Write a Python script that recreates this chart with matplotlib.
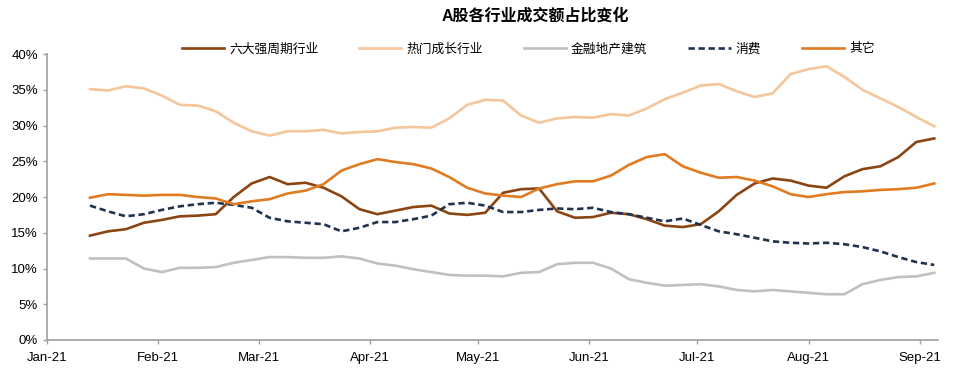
import matplotlib
matplotlib.use('Agg')
import matplotlib.pyplot as plt
import matplotlib.dates as mdates
from matplotlib.ticker import FuncFormatter
import pandas as pd

plt.rcParams['font.family'] = ['Liberation Sans', 'Noto Sans CJK SC', 'DejaVu Sans']
plt.rcParams['axes.unicode_minus'] = False

# ── Data (share of A-share turnover, %) ────────────────────────────
dates = pd.date_range('2021-01-13', periods=48, freq='5D')

cyclical = [14.6, 15.2, 15.5, 16.4, 16.8, 17.3, 17.4, 17.6, 20.0, 21.9,
            22.8, 21.8, 22.0, 21.3, 20.1, 18.3, 17.6, 18.1, 18.6, 18.8,
            17.7, 17.5, 17.8, 20.6, 21.1, 21.2, 18.0, 17.1, 17.2, 17.8,
            17.6, 16.9, 16.0, 15.8, 16.2, 18.0, 20.3, 21.9, 22.6, 22.3,
            21.6, 21.3, 22.9, 23.9, 24.3, 25.6, 27.7, 28.2]

growth = [35.1, 34.9, 35.5, 35.2, 34.2, 32.9, 32.8, 32.0, 30.4, 29.2,
          28.6, 29.2, 29.2, 29.4, 28.9, 29.1, 29.2, 29.7, 29.8, 29.7,
          31.0, 32.9, 33.6, 33.5, 31.4, 30.4, 31.0, 31.2, 31.1, 31.6,
          31.4, 32.4, 33.7, 34.6, 35.6, 35.8, 34.8, 34.0, 34.5, 37.2,
          37.9, 38.3, 36.8, 35.0, 33.8, 32.6, 31.2, 29.9]

finance = [11.4, 11.4, 11.4, 10.0, 9.5, 10.1, 10.1, 10.2, 10.8, 11.2,
           11.6, 11.6, 11.5, 11.5, 11.7, 11.4, 10.7, 10.4, 9.9, 9.5,
           9.1, 9.0, 9.0, 8.9, 9.4, 9.5, 10.6, 10.8, 10.8, 10.0,
           8.5, 8.0, 7.6, 7.7, 7.8, 7.5, 7.0, 6.8, 7.0, 6.8,
           6.6, 6.4, 6.4, 7.8, 8.4, 8.8, 8.9, 9.4]

consumer = [18.8, 18.0, 17.3, 17.6, 18.2, 18.7, 19.0, 19.2, 18.9, 18.5,
            17.1, 16.6, 16.4, 16.2, 15.2, 15.7, 16.5, 16.5, 16.9, 17.4,
            19.0, 19.2, 18.8, 17.9, 17.9, 18.2, 18.4, 18.3, 18.5, 17.9,
            17.6, 17.1, 16.6, 17.0, 16.1, 15.2, 14.8, 14.3, 13.8, 13.6,
            13.5, 13.6, 13.4, 13.0, 12.4, 11.6, 10.9, 10.5]

other = [19.9, 20.4, 20.3, 20.2, 20.3, 20.3, 20.0, 19.8, 19.0, 19.4,
         19.7, 20.5, 20.9, 21.8, 23.7, 24.6, 25.3, 24.9, 24.6, 24.0,
         22.8, 21.3, 20.5, 20.2, 20.0, 21.2, 21.8, 22.2, 22.2, 23.0,
         24.5, 25.6, 26.0, 24.3, 23.4, 22.7, 22.8, 22.3, 21.5, 20.4,
         20.0, 20.4, 20.7, 20.8, 21.0, 21.1, 21.3, 21.9]

labels = ['六大强周期行业', '热门成长行业', '金融地产建筑', '消费', '其它']

fig = plt.figure(figsize=(9.57, 3.73), dpi=100)
ax = fig.add_axes([0.049, 0.0885, 0.931, 0.7665])

lw = 1.9
ax.plot(dates, cyclical, color='#8B4513', lw=lw, label=labels[0])
ax.plot(dates, growth, color='#F5C59B', lw=lw, label=labels[1])
ax.plot(dates, finance, color='#C0C0C0', lw=lw, label=labels[2])
ax.plot(dates, consumer, color='#1F3350', lw=lw, ls=(0, (2.4, 1.4)), label=labels[3])
ax.plot(dates, other, color='#E07B22', lw=lw, label=labels[4])

ax.set_ylim(0, 40)
ax.set_yticks(range(0, 41, 5))
ax.yaxis.set_major_formatter(FuncFormatter(lambda v, p: f'{v:.0f}%'))
ax.set_xlim(pd.Timestamp('2021-01-01'), pd.Timestamp('2021-09-06'))
ax.xaxis.set_major_locator(mdates.MonthLocator())
ax.xaxis.set_major_formatter(mdates.DateFormatter('%b-%y'))

for s in ['top', 'right']:
    ax.spines[s].set_visible(False)
for s in ['left', 'bottom']:
    ax.spines[s].set_color('#A0A0A0')
    ax.spines[s].set_linewidth(1.2)
ax.tick_params(axis='both', colors='#A0A0A0', labelcolor='black',
               labelsize=9.5, length=3, width=1)
ax.tick_params(axis='x', pad=6)

fig.text(0.559, 0.958, 'A股各行业成交额占比变化', ha='center', va='center',
         fontsize=11.5, fontweight='bold')

fig.legend(loc='center', bbox_to_anchor=(0.552, 0.868), ncol=5, frameon=False,
           fontsize=9.2, handlelength=3.3, handletextpad=0.4, columnspacing=3.2)

fig.savefig('out.png', dpi=100, facecolor='white')
